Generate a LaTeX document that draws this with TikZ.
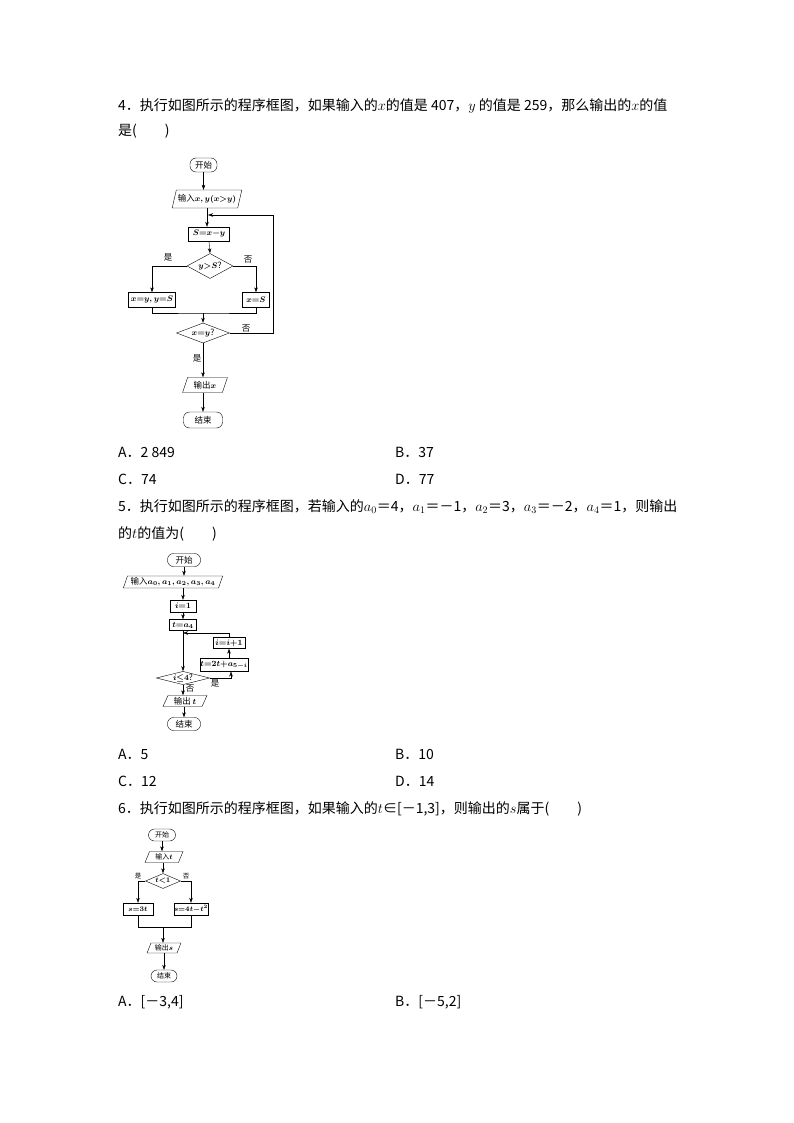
\documentclass[tikz,border=0pt]{standalone}
\usepackage{fontspec}
\setmainfont{Noto Sans CJK SC}
\usetikzlibrary{shapes.geometric,arrows.meta}
\begin{document}
\begin{tikzpicture}[x=1pt,y=-1pt,
  txt/.style={anchor=west,font=\fontsize{14}{16}\selectfont,inner sep=0},
  bx/.style={draw,minimum width=#1,inner sep=0,font=\fontsize{8.5}{10}\selectfont\boldmath},
  rbx/.style={draw,rounded corners=6pt,minimum width=#1,inner sep=0,font=\fontsize{8.5}{10}\selectfont},
  par/.style={draw,trapezium,trapezium left angle=70,trapezium right angle=110,minimum width=#1,inner sep=1pt,trapezium stretches=true,font=\fontsize{8.5}{10}\selectfont\boldmath},
  dia/.style={draw,diamond,aspect=2.3,inner sep=0,font=\fontsize{8.5}{10}\selectfont\boldmath},
  ar/.style={-{Stealth[length=5pt,width=3.5pt]}},
  lab/.style={font=\fontsize{8.5}{10}\selectfont,inner sep=0}]
\useasboundingbox (0,0) rectangle (794,1123);
% ---- Q4 text
\node[txt] (q4a) at (118,106) {4．执行如图所示的程序框图，如果输入的$x$的值是 407，$y$ 的值是 259，那么输出的$x$的值};
\node[txt] (q4b) at (118,131) {是(\hspace{2em})};
% ---- flowchart 1
\node[rbx=27,minimum height=14] (s1) at (203.5,165) {开始};
\node[par=70,minimum height=18] (in1) at (207,199) {输入$x,y(x{>}y)$};
\node[bx=41,minimum height=14] (S1) at (209,234) {$S{=}x{-}y$};
\node[dia,minimum width=46,minimum height=25] (d1) at (210,266) {$y{>}S$?};
\node[bx=47,minimum height=15] (L1) at (152,300) {$x{=}y,y{=}S$};
\node[bx=27,minimum height=15] (R1) at (256,300) {$x{=}S$};
\node[dia,minimum width=53,minimum height=20] (d2) at (203,333) {$x{=}y$?};
\node[par=45,minimum height=15] (o1) at (205,385) {输出$x$};
\node[rbx=39,minimum height=16] (e1) at (203,420) {结束};
\coordinate (m1) at (203,313);
\coordinate (j1) at (208,215);
\coordinate (c1) at (273,333);
\coordinate (c2) at (273,215);
\draw[ar] (s1) -- (s1|-in1.north);
\draw[ar] (in1.south) -- (in1.south|-S1.north);
\draw[ar] (S1.south) -- (d1.north);
\draw[ar] (d1.west) -| (L1.north);
\draw[ar] (d1.east) -| (R1.north);
\draw (L1.south) |- (m1) -| (R1.south);
\draw[ar] (m1) -- (d2.north);
\draw[ar] (d2.east) -- (c1) -- (c2) -- (j1);
\draw[ar] (d2.south) -- (d2.south|-o1.north);
\draw[ar] (o1.south-|e1) -- (e1.north);
\node[lab] (y1) at (168,257) {是};
\node[lab] (n1) at (248,260) {否};
\node[lab] (n2) at (246,329) {否};
\node[lab] (y2) at (197,358) {是};
% ---- options Q4
\node[txt] (a4) at (118,452) {A．2 849};
\node[txt] (b4) at (395,452) {B．37};
\node[txt] (c4) at (118,479) {C．74};
\node[txt] (d4) at (395,479) {D．77};
% ---- Q5 text
\node[txt] (q5a) at (118,507) {5．执行如图所示的程序框图，若输入的$a_0$＝4，$a_1$＝－1，$a_2$＝3，$a_3$＝－2，$a_4$＝1，则输出};
\node[txt] (q5b) at (118,534) {的$t$的值为(\hspace{2em})};
% ---- flowchart 2
\node[rbx=33,minimum height=13] (s2) at (184,560) {开始};
\node[par=100,minimum height=12] (in2) at (173,582) {输入$a_0,a_1,a_2,a_3,a_4$};
\node[bx=26,minimum height=12] (i2) at (183,606) {$i{=}1$};
\node[bx=27,minimum height=11] (t2) at (183,625) {$t{=}a_4$};
\node[bx=32,minimum height=11] (ii) at (229,643) {$i{=}i{+}1$};
\node[bx=48,minimum height=13] (tt) at (224,665) {$t{=}2t{+}a_{5-i}$};
\node[dia,minimum width=46,minimum height=11,aspect=4] (d3) at (183,678) {$i{\le}4$?};
\node[par=44,minimum height=11] (o2) at (185,701) {输出 $t$};
\node[rbx=33,minimum height=13] (e2) at (184,724) {结束};
\coordinate (j2) at (183,633);
\coordinate (k1) at (231,678);
\coordinate (k2) at (231,671.5);
\coordinate (k3) at (229,658.5);
\draw[ar] (s2) -- (s2|-in2.north);
\draw[ar] (in2.south-|i2) -- (i2.north);
\draw[ar] (i2) -- (t2);
\draw[ar] (t2) -- (d3.north);
\draw[ar] (d3.east) -- (k1) -- (k2);
\draw[ar] (k3) -- (ii.south);
\draw[ar] (ii.north) |- (j2);
\draw[ar] (d3.south) -- (d3.south|-o2.north);
\draw[ar] (o2.south-|e2) -- (e2.north);
\node[lab] (y3) at (215,683) {是};
\node[lab] (n3) at (190,689) {否};
\node[txt] (a5) at (118,754) {A．5};
\node[txt] (b5) at (395,754) {B．10};
\node[txt] (c5) at (118,781) {C．12};
\node[txt] (d5) at (395,781) {D．14};
% ---- Q6
\node[txt] (q6) at (118,809) {6．执行如图所示的程序框图，如果输入的$t$∈[－1,3]，则输出的$s$属于(\hspace{2em})};
\node[rbx=27,minimum height=12,font=\fontsize{7}{8}\selectfont] (s3) at (162,835) {开始};
\node[par=38,minimum height=11,font=\fontsize{7}{8}\selectfont\boldmath] (in3) at (164,857) {输入$t$};
\node[dia,minimum width=35,minimum height=15,font=\fontsize{7}{8}\selectfont\boldmath] (d4) at (163,881) {$t{<}1$};
\node[bx=30,minimum height=12,font=\fontsize{7}{8}\selectfont\boldmath] (L3) at (138,909) {$s{=}3t$};
\node[bx=32,minimum height=12,font=\fontsize{7}{8}\selectfont\boldmath] (R3) at (191,909) {$s{=}4t{-}t^2$};
\node[par=34,minimum height=10,font=\fontsize{7}{8}\selectfont\boldmath] (o3) at (164,948) {输出$s$};
\node[rbx=26,minimum height=12,font=\fontsize{7}{8}\selectfont] (e3) at (164,976) {结束};
\coordinate (m3) at (163,927);
\draw[ar] (s3) -- (s3|-in3.north);
\draw[ar] (in3.south-|d4) -- (d4.north);
\draw[ar] (d4.west) -| (L3.north);
\draw[ar] (d4.east) -| (R3.north);
\draw (L3.south) |- (m3) -| (R3.south);
\draw[ar] (m3) -- (m3|-o3.north);
\draw[ar] (o3.south-|e3) -- (e3.north);
\node[lab,font=\fontsize{6.5}{7}\selectfont] (y4) at (138,876) {是};
\node[lab,font=\fontsize{6.5}{7}\selectfont] (n4) at (186,876) {否};
\node[txt] (a6) at (118,1002) {A．[－3,4]};
\node[txt] (b6) at (395,1002) {B．[－5,2]};
\end{tikzpicture}
\end{document}
